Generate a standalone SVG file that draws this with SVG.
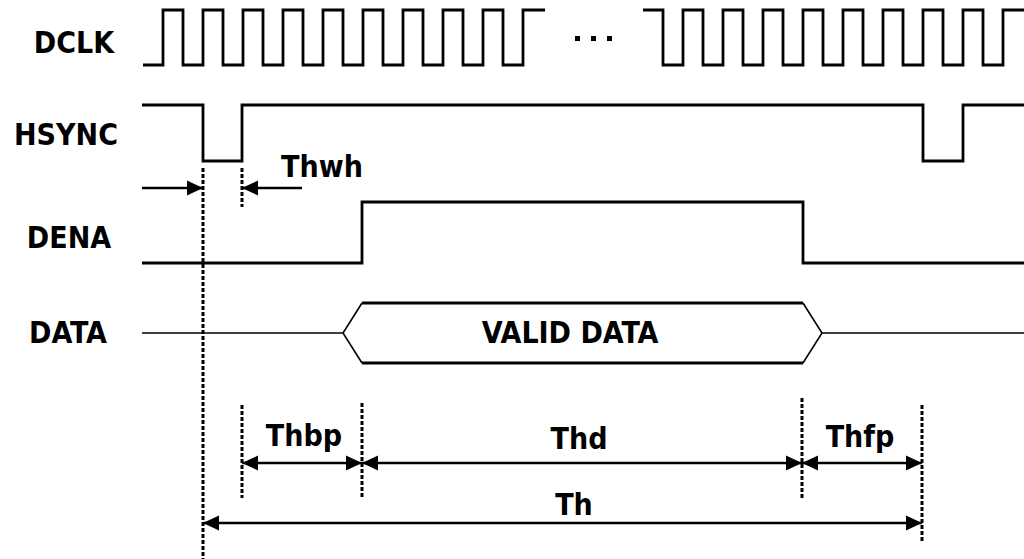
<svg xmlns="http://www.w3.org/2000/svg" width="1024" height="559" viewBox="0 0 1024 559">
<style>
.lbl{font-family:"DejaVu Sans Condensed","DejaVu Sans",sans-serif;font-weight:bold;font-stretch:condensed;font-size:30px;fill:#000;text-anchor:middle}
.wave{fill:none;stroke:#000;stroke-width:2.8;stroke-linejoin:miter}
.thin{fill:none;stroke:#000;stroke-width:1.6}
.dash{fill:none;stroke:#000;stroke-width:3;stroke-dasharray:4 2}
.dim{fill:none;stroke:#000;stroke-width:2.6}
</style>
<defs>
<marker id="ah" markerUnits="userSpaceOnUse" markerWidth="16" markerHeight="16" refX="15" refY="7" orient="auto-start-reverse" viewBox="0 0 15 14">
<path d="M0,0 L15,7 L0,14 z" fill="#000"/>
</marker>
</defs>
<rect width="1024" height="559" fill="#fff"/>
<g id="labels">
<text class="lbl" x="74" y="53">DCLK</text>
<text class="lbl" x="66" y="145">HSYNC</text>
<text class="lbl" x="69" y="248">DENA</text>
<text class="lbl" x="68" y="343">DATA</text>
</g>
<g id="dclk">
<path class="wave" d="M143 65 H163 V10 H183 V65 H203 V10 H223 V65 H243 V10 H263 V65 H283 V10 H303 V65 H323 V10 H343 V65 H363 V10 H383 V65 H403 V10 H423 V65 H443 V10 H463 V65 H483 V10 H503 V65 H523 V10 H545"/>
<g id="ellipsis" fill="#000">
<rect x="575" y="36" width="5" height="5"/>
<rect x="591" y="36" width="5" height="5"/>
<rect x="607" y="36" width="5" height="5"/>
</g>
<path class="wave" d="M643 10 H663 V65 H683 V10 H703 V65 H723 V10 H743 V65 H763 V10 H783 V65 H803 V10 H823 V65 H843 V10 H863 V65 H883 V10 H903 V65 H923 V10 H943 V65 H963 V10 H983 V65 H1003 V10 H1024"/>
</g>
<g id="hsync">
<path class="wave" d="M142 105 H203 V161 H242 V105 H923 V161 H963 V105 H1024"/>
</g>
<g id="dena">
<path class="wave" d="M142 263 H362 V202 H803 V263 H1024"/>
</g>
<g id="data">
<path class="thin" d="M142 333 H343 M822 333 H1024 M362 303 L343 333 L362 363 M803 303 L822 333 L803 363"/>
<path class="wave" d="M362 303 H803 M362 363 H803"/>
<text class="lbl" x="570" y="343">VALID DATA</text>
</g>
<g id="connectors">
<path class="dash" d="M203 168 V559 M242 168 V207 M242 405 V498 M362 403 V498 M802 398 V498 M922 405 V543"/>
<line class="dim" x1="142" y1="188" x2="203" y2="188" marker-end="url(#ah)"/>
<line class="dim" x1="302" y1="188" x2="242" y2="188" marker-end="url(#ah)"/>
<line class="dim" x1="242" y1="463" x2="362" y2="463" marker-start="url(#ah)" marker-end="url(#ah)"/>
<line class="dim" x1="362" y1="463" x2="802" y2="463" marker-start="url(#ah)" marker-end="url(#ah)"/>
<line class="dim" x1="802" y1="463" x2="922" y2="463" marker-start="url(#ah)" marker-end="url(#ah)"/>
<line class="dim" x1="203" y1="523" x2="922" y2="523" marker-start="url(#ah)" marker-end="url(#ah)"/>
</g>
<g id="dim-labels">
<text class="lbl" x="322" y="177">Thwh</text>
<text class="lbl" x="304" y="446">Thbp</text>
<text class="lbl" x="579" y="449">Thd</text>
<text class="lbl" x="860" y="447">Thfp</text>
<text class="lbl" x="574" y="515">Th</text>
</g>
</svg>
